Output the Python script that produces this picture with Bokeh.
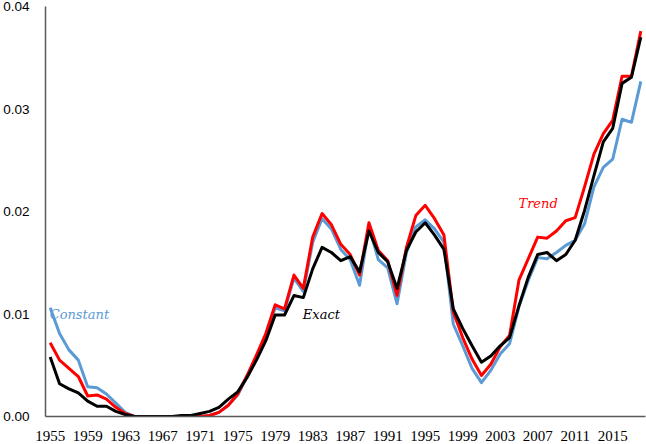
from bokeh.plotting import figure
from bokeh.models import Range1d, FixedTicker, NumeralTickFormatter, Label
from bokeh.embed import file_html
from bokeh.resources import INLINE

years = list(range(1955, 2019))

exact = [0.0058, 0.0032, 0.0027, 0.0023, 0.0015, 0.0010, 0.0010, 0.0005, 0.0002, 0.0000,
         0.0000, 0.0000, 0.0000, 0.0000, 0.0001, 0.0001, 0.0003, 0.0005, 0.0009, 0.0017,
         0.0024, 0.0038, 0.0055, 0.0074, 0.0099, 0.0099, 0.0118, 0.0116, 0.0144, 0.0165,
         0.0160, 0.0152, 0.0156, 0.0141, 0.0181, 0.0160, 0.0151, 0.0125, 0.0162, 0.0180,
         0.0189, 0.0177, 0.0163, 0.0105, 0.0086, 0.0069, 0.0053, 0.0059, 0.0069, 0.0077,
         0.0108, 0.0136, 0.0158, 0.0160, 0.0152, 0.0158, 0.0172, 0.0201, 0.0235, 0.0268,
         0.0281, 0.0325, 0.0331, 0.0370]

trend = [0.0072, 0.0055, 0.0047, 0.0039, 0.0020, 0.0021, 0.0017, 0.0009, 0.0003, 0.0000,
         0.0000, 0.0000, 0.0000, 0.0000, 0.0000, 0.0000, 0.0000, 0.0001, 0.0004, 0.0011,
         0.0022, 0.0040, 0.0060, 0.0081, 0.0109, 0.0105, 0.0138, 0.0125, 0.0175, 0.0198,
         0.0187, 0.0168, 0.0158, 0.0138, 0.0189, 0.0162, 0.0152, 0.0118, 0.0165, 0.0196,
         0.0206, 0.0193, 0.0177, 0.0102, 0.0077, 0.0056, 0.0040, 0.0051, 0.0068, 0.0079,
         0.0133, 0.0154, 0.0175, 0.0174, 0.0181, 0.0191, 0.0194, 0.0224, 0.0256, 0.0276,
         0.0289, 0.0332, 0.0332, 0.0376]

constant = [0.0106, 0.0081, 0.0065, 0.0055, 0.0029, 0.0028, 0.0022, 0.0013, 0.0004, 0.0000,
            0.0000, 0.0000, 0.0000, 0.0000, 0.0000, 0.0000, 0.0000, 0.0001, 0.0004, 0.0011,
            0.0021, 0.0039, 0.0058, 0.0079, 0.0106, 0.0103, 0.0135, 0.0122, 0.0170, 0.0193,
            0.0183, 0.0163, 0.0153, 0.0128, 0.0185, 0.0153, 0.0145, 0.0110, 0.0160, 0.0185,
            0.0192, 0.0183, 0.0170, 0.0090, 0.0069, 0.0047, 0.0033, 0.0045, 0.0061, 0.0071,
            0.0107, 0.0133, 0.0155, 0.0154, 0.0160, 0.0167, 0.0172, 0.0188, 0.0224, 0.0243,
            0.0251, 0.0290, 0.0287, 0.0327]

x_ticks = list(range(1955, 2016, 4))
y_ticks = [0.0, 0.01, 0.02, 0.03, 0.04]

p = figure(width=646, height=444, output_backend="svg", toolbar_location=None,
           x_range=Range1d(1954.5, 2018.5), y_range=Range1d(0, 0.04),
           min_border_left=44, min_border_right=1, min_border_top=6, min_border_bottom=28)

p.outline_line_color = None
p.xgrid.visible = False
p.ygrid.visible = False
p.background_fill_color = "white"
p.border_fill_color = "white"

p.line(years, constant, line_color="#5B9BD5", line_width=3, line_join="round")
p.line(years, trend, line_color="#FF0000", line_width=3, line_join="round")
p.line(years, exact, line_color="#000000", line_width=3, line_join="round")

for ax in (p.xaxis[0], p.yaxis[0]):
    ax.axis_line_color = "#595959"
    ax.axis_line_width = 1.5
    ax.major_tick_line_color = None
    ax.minor_tick_line_color = None
    ax.major_tick_out = 0
    ax.minor_tick_out = 0
    ax.major_label_text_color = "#000000"

p.xaxis.ticker = FixedTicker(ticks=x_ticks)
p.xaxis.major_label_text_font = "Liberation Serif"
p.xaxis.major_label_text_font_size = "15px"
p.xaxis.major_label_standoff = 14

p.yaxis.ticker = FixedTicker(ticks=y_ticks)
p.yaxis.formatter = NumeralTickFormatter(format="0.00")
p.yaxis.major_label_text_font = "Liberation Sans"
p.yaxis.major_label_text_font_size = "13.5px"
p.yaxis.major_label_standoff = 16

# series names written next to their lines
for txt, xx, yy, col in [("Constant", 1954.95, 0.0100, "#5B9BD5"),
                         ("Exact", 1981.95, 0.0100, "#000000"),
                         ("Trend", 2004.95, 0.0208, "#FF0000")]:
    p.add_layout(Label(x=xx, y=yy, text=txt, text_color=col,
                       text_font="DejaVu Serif", text_font_style="italic",
                       text_font_size="13px", text_baseline="alphabetic"))

open("out.html", "w").write(file_html(p, INLINE))
